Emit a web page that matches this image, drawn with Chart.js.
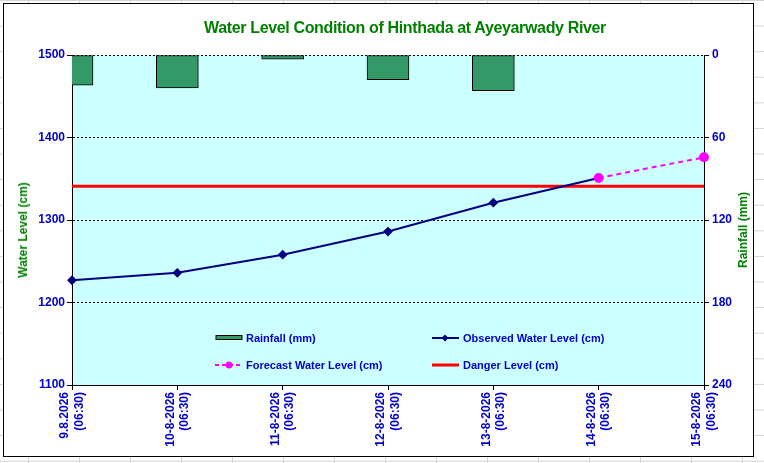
<!DOCTYPE html>
<html>
<head>
<meta charset="utf-8">
<title>Water Level Condition of Hinthada at Ayeyarwady River</title>
<script src="https://cdn.jsdelivr.net/npm/chart.js@4.4.1/dist/chart.umd.min.js"></script>
<style>
  body {
    margin: 0;
    width: 764px;
    height: 463px;
    overflow: hidden;
    background-color: #fff;
    background-image: linear-gradient(to right, #d4d4d4 1px, transparent 1px),
                      linear-gradient(to bottom, #d4d4d4 1px, transparent 1px);
    background-size: 51px 25.6px, 51px 25.6px;
    background-position: 28px 0, 0 0;
    font-family: "Liberation Sans", Arial, sans-serif;
  }
  #box {
    position: absolute;
    left: 3px;
    top: 3px;
    width: 749px;
    height: 452px;
    border: 1px solid #000;
    background: #fff;
  }
  #box canvas { position: absolute; left: 0; top: 0; }
  .title {
    position: absolute;
    left: 105px;
    top: 19px;
    width: 600px;
    text-align: center;
    color: #007f00;
    letter-spacing: -0.35px;
    font: bold 16px "Liberation Sans Narrow", "Liberation Sans", Arial, sans-serif;
  }
  .axis-title {
    position: absolute;
    color: #008000;
    font: bold 12px "Liberation Sans", Arial, sans-serif;
    white-space: nowrap;
    transform: translate(-50%, -50%) rotate(-90deg);
  }
  .leg {
    position: absolute;
    height: 14px;
    display: flex;
    align-items: center;
    color: #0000cc;
    font: bold 11px "Liberation Sans", Arial, sans-serif;
    white-space: nowrap;
  }
  .leg svg { margin-right: 3px; }
</style>
</head>
<body>
<div id="box"><canvas id="myChart" width="749" height="452"></canvas></div>

<div class="title">Water Level Condition of Hinthada at Ayeyarwady River</div>
<div class="axis-title" style="left:23px;top:230px">Water Level (cm)</div>
<div class="axis-title" style="left:743px;top:230px">Rainfall (mm)</div>

<div class="leg" style="left:215px;top:331px">
  <svg width="28" height="8"><rect x="1" y="1.5" width="26" height="4" fill="#339966" stroke="#000" stroke-width="1"/></svg>Rainfall (mm)
</div>
<div class="leg" style="left:432px;top:331px">
  <svg width="28" height="8"><line x1="0" y1="4" x2="27" y2="4" stroke="#000080" stroke-width="2"/><rect x="10.5" y="1.5" width="5" height="5" fill="#000080" transform="rotate(45 13 4)"/></svg>Observed Water Level (cm)
</div>
<div class="leg" style="left:215px;top:358px">
  <svg width="28" height="8"><line x1="0" y1="4" x2="28" y2="4" stroke="#ff00ff" stroke-width="2" stroke-dasharray="4 3"/><circle cx="14" cy="4" r="3.5" fill="#ff00ff"/></svg>Forecast Water Level (cm)
</div>
<div class="leg" style="left:432px;top:358px">
  <svg width="28" height="8"><line x1="0" y1="4" x2="27" y2="4" stroke="#ff0000" stroke-width="3"/></svg>Danger Level (cm)
</div>

<script>
// chart values
const dates = ['9.8.2026', '10-8-2026', '11-8-2026', '12-8-2026', '13-8-2026', '14-8-2026', '15-8-2026'];
const times = ['(06:30)', '(06:30)', '(06:30)', '(06:30)', '(06:30)', '(06:30)', '(06:30)'];
const rainfall = [22, 24, 3, 18, 26, null, null];
const observed = [1227, 1236, 1258, 1286, 1321, 1351, null];
const forecast = [null, null, null, null, null, 1351, 1376];
const dangerLevel = 1341;
const levelTicks = [1100, 1200, 1300, 1400, 1500];
const rainTicks = [0, 60, 120, 180, 240];

const labels = dates.map((d, i) => [d, times[i]]);

// light cyan plot area
const plotBackground = {
  id: 'plotBackground',
  beforeDraw(chart) {
    const { ctx, chartArea: a } = chart;
    ctx.save();
    ctx.fillStyle = '#ccffff';
    ctx.fillRect(a.left, a.top, a.right - a.left, a.bottom - a.top);
    ctx.restore();
  }
};

const tickFont = { family: 'Liberation Sans, Arial, sans-serif', size: 12, weight: 'bold' };
const plain = v => String(v);

var ctx = document.getElementById('myChart').getContext('2d');
new Chart(ctx, {
  type: 'bar',
  data: {
    labels: labels,
    datasets: [
      {
        type: 'line',
        label: 'Forecast Water Level (cm)',
        data: forecast,
        yAxisID: 'y',
        borderColor: '#ff00ff',
        backgroundColor: '#ff00ff',
        borderWidth: 2,
        borderDash: [5, 4],
        pointStyle: 'circle',
        pointRadius: 4,
        tension: 0,
        order: 0
      },
      {
        type: 'line',
        label: 'Observed Water Level (cm)',
        data: observed,
        yAxisID: 'y',
        borderColor: '#000080',
        backgroundColor: '#000080',
        borderWidth: 2,
        pointStyle: 'rectRot',
        pointRadius: 3.5,
        tension: 0,
        order: 1
      },
      {
        type: 'line',
        label: 'Danger Level (cm)',
        data: dates.map(() => dangerLevel),
        yAxisID: 'y',
        borderColor: '#ff0000',
        borderWidth: 3,
        pointRadius: 0,
        order: 2
      },
      {
        type: 'bar',
        label: 'Rainfall (mm)',
        data: rainfall,
        yAxisID: 'y1',
        backgroundColor: '#339966',
        borderColor: '#000',
        borderWidth: 1,
        borderSkipped: false,
        barThickness: 42,
        clip: { left: 0, top: 1, right: 0, bottom: 0 },
        order: 3
      }
    ]
  },
  options: {
    responsive: false,
    animation: false,
    layout: { padding: { top: 51, left: 0, right: 0, bottom: 0 } },
    plugins: {
      legend: { display: false },
      title: { display: false },
      tooltip: { enabled: false }
    },
    scales: {
      x: {
        type: 'category',
        offset: false,
        grid: { offset: false, drawOnChartArea: false, color: '#000', tickLength: 5 },
        border: { color: '#000', width: 1 },
        ticks: {
          autoSkip: false,
          maxRotation: 90,
          minRotation: 90,
          padding: 2,
          labelOffset: -7,
          color: '#0000cc',
          font: tickFont
        },
        afterFit(scale) { scale.height = 71; }
      },
      y: {
        position: 'left',
        min: levelTicks[0],
        max: levelTicks[levelTicks.length - 1],
        afterBuildTicks(scale) { scale.ticks = levelTicks.map(v => ({ value: v })); },
        grid: { color: '#000', lineWidth: 1, tickLength: 5, tickBorderDash: [] },
        border: { color: '#000', width: 1, dash: [2, 2] },
        ticks: { padding: 2, color: '#0000cc', font: tickFont, callback: plain },
        afterFit(scale) { scale.width = 68; }
      },
      y1: {
        position: 'right',
        reverse: true,
        min: rainTicks[0],
        max: rainTicks[rainTicks.length - 1],
        afterBuildTicks(scale) { scale.ticks = rainTicks.map(v => ({ value: v })); },
        grid: { drawOnChartArea: false, color: '#000', tickLength: 5 },
        border: { color: '#000', width: 1 },
        ticks: { padding: 3, color: '#0000cc', font: tickFont, callback: plain },
        afterFit(scale) { scale.width = 49; }
      }
    }
  },
  plugins: [plotBackground]
});
</script>
</body>
</html>
